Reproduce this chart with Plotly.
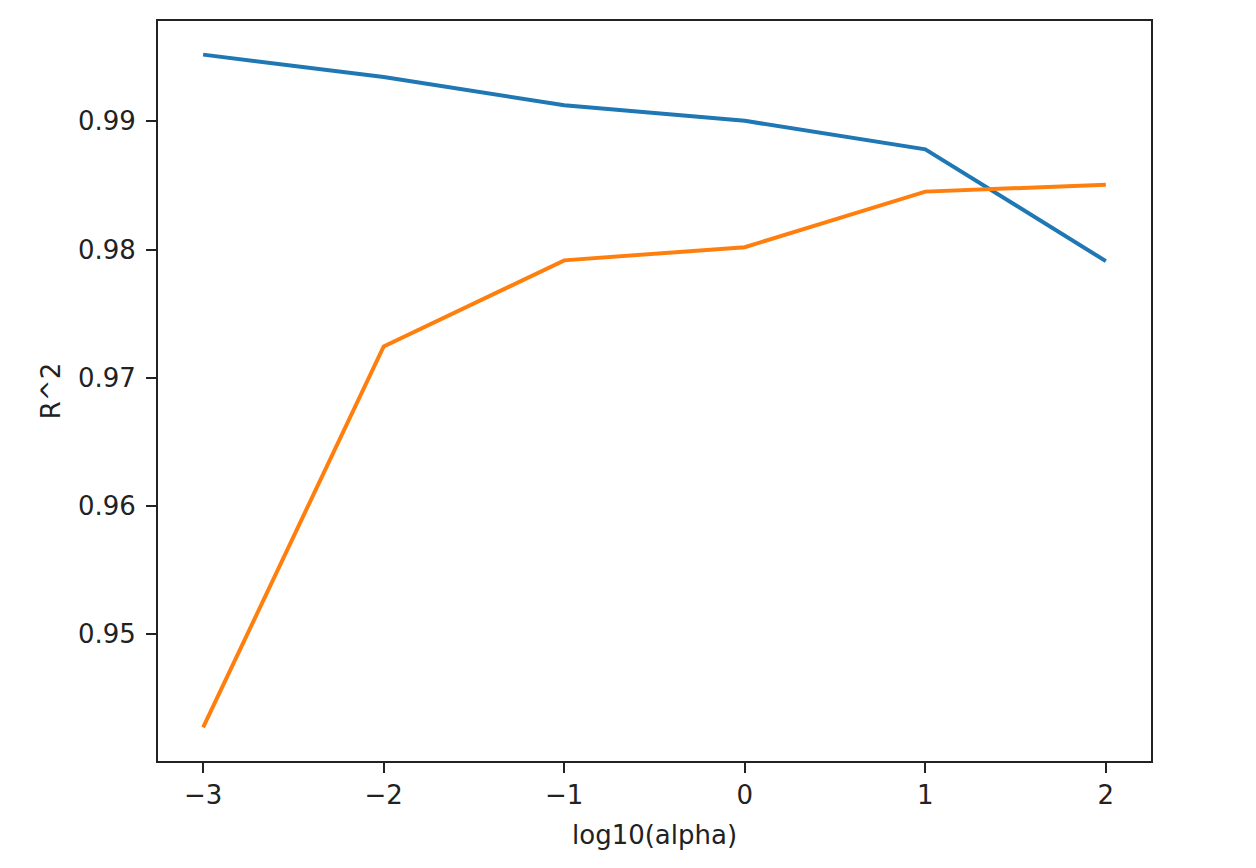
import plotly.graph_objects as go

log_alpha = [-3, -2, -1, 0, 1, 2]
train_r2 = [0.99520, 0.99346, 0.99125, 0.99004, 0.98782, 0.97910]
test_r2 = [0.94275, 0.97245, 0.97916, 0.98019, 0.98452, 0.98506]
x_label = "log10(alpha)"
y_label = "R^2"

# matplotlib-like 5% margins
xmin, xmax = min(log_alpha), max(log_alpha)
xpad = 0.05 * (xmax - xmin)
allv = train_r2 + test_r2
ymin, ymax = min(allv), max(allv)
ypad = 0.05 * (ymax - ymin)

fig = go.Figure()
fig.add_trace(go.Scatter(x=log_alpha, y=train_r2, mode="lines",
                         line=dict(color="#1f77b4", width=4), showlegend=False))
fig.add_trace(go.Scatter(x=log_alpha, y=test_r2, mode="lines",
                         line=dict(color="#ff7f0e", width=4), showlegend=False))

axis_common = dict(
    showgrid=False, zeroline=False, showline=True, mirror=True,
    linecolor="#222222", linewidth=2,
    ticks="outside", ticklen=10, tickwidth=2, tickcolor="#222222",
    tickfont=dict(family="DejaVu Sans", size=26, color="#222222"),
)

fig.update_xaxes(range=[xmin - xpad, xmax + xpad], tickmode="linear", tick0=-3, dtick=1,
                 ticklabelstandoff=0,
                 **axis_common)
fig.update_yaxes(range=[ymin - ypad, ymax + ypad], tickmode="linear", tick0=0.95, dtick=0.01,
                 tickformat=".2f", ticklabelstandoff=5,
                 title=dict(text=y_label, font=dict(family="DejaVu Sans", size=26, color="#222222"),
                            standoff=10),
                 **axis_common)

fig.add_annotation(text=x_label, xref="paper", yref="paper", x=0.5, y=0,
                   xanchor="center", yanchor="middle", yshift=-74, showarrow=False,
                   font=dict(family="DejaVu Sans", size=26, color="#222222"))

fig.update_layout(
    width=1240, height=852,
    margin=dict(l=150, r=97, t=13, b=99, autoexpand=False),
    plot_bgcolor="white", paper_bgcolor="white",
    font=dict(family="DejaVu Sans", size=26, color="#222222"),
)

fig.write_html("out.html")
